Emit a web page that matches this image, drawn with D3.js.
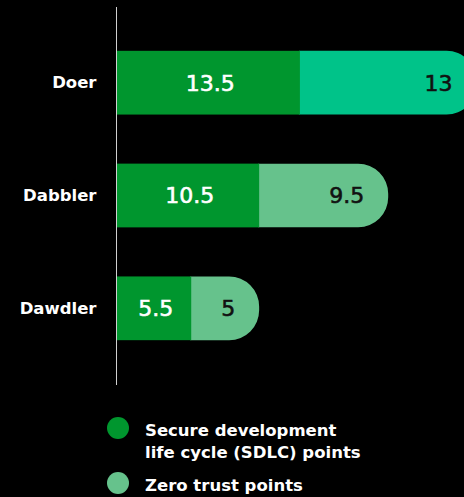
<!DOCTYPE html>
<html>
<head>
<meta charset="utf-8">
<script src="https://cdn.jsdelivr.net/npm/d3@7"></script>
<style>
  html, body { margin: 0; padding: 0; background: #000; overflow: hidden; }
  svg { display: block; }
  text { font-family: "DejaVu Sans", "Noto Sans", sans-serif; }
</style>
</head>
<body>
<svg id="chart" width="464" height="497"></svg>
<script>
// Profiles and their points
const categories = ["Doer", "Dabbler", "Dawdler"];
const sdlcPoints = [13.5, 10.5, 5.5];
const zeroTrustPoints = [13, 9.5, 5];
const seriesNames = ["Secure development\nlife cycle (SDLC) points", "Zero trust points"];
const sdlcColor = "#00962e";
const zeroTrustColors = ["#00c389", "#66c28c", "#66c28c"];
const legendColors = ["#00962e", "#66c28c"];

const svg = d3.select("#chart");
const axisX = 116.5;

const x = d3.scaleLinear().domain([0, 26.5]).range([axisX, axisX + 360]);
const y = d3.scaleBand().domain(categories).range([26, 365]).paddingInner(0.435).paddingOuter(0.22);

const rows = categories.map((c, i) => ({
  cat: c, a: sdlcPoints[i], b: zeroTrustPoints[i], col: zeroTrustColors[i]
}));

const bh = y.bandwidth();
const r = Math.min(30, bh / 2);

// Rounded-end path for the outer segment
function capPath(x0, x1, y0, h) {
  const rr = Math.min(r, x1 - x0);
  return `M${x0},${y0} H${x1 - rr} A${rr},${rr} 0 0 1 ${x1},${y0 + rr} V${y0 + h - rr} A${rr},${rr} 0 0 1 ${x1 - rr},${y0 + h} H${x0} Z`;
}

const g = svg.append("g");

// Zero trust segment (rounded end)
g.selectAll("path.zt").data(rows).join("path")
  .attr("class", "zt")
  .attr("d", d => capPath(x(d.a) - 1, x(d.a + d.b), y(d.cat), bh))
  .attr("fill", d => d.col);

// SDLC segment
g.selectAll("rect.sdlc").data(rows).join("rect")
  .attr("class", "sdlc")
  .attr("x", x(0))
  .attr("y", d => y(d.cat))
  .attr("width", d => x(d.a) - x(0))
  .attr("height", bh)
  .attr("fill", sdlcColor);

// Value labels (thin same-colour stroke gives a medium weight)
g.selectAll("text.va").data(rows).join("text")
  .attr("class", "va")
  .attr("x", d => (x(0) + x(d.a)) / 2 + 2)
  .attr("y", d => y(d.cat) + bh / 2)
  .attr("dy", "0.36em")
  .attr("text-anchor", "middle")
  .attr("fill", "#fff")
  .attr("stroke", "#fff")
  .attr("stroke-width", 0.6)
  .attr("font-size", 22)
  .text(d => d.a);

g.selectAll("text.vb").data(rows).join("text")
  .attr("class", "vb")
  .attr("x", d => x(d.a + d.b) - 24)
  .attr("y", d => y(d.cat) + bh / 2)
  .attr("dy", "0.36em")
  .attr("text-anchor", "end")
  .attr("fill", "#111")
  .attr("stroke", "#111")
  .attr("stroke-width", 0.6)
  .attr("font-size", 22)
  .text(d => d.b);

// Category axis
const yAxis = svg.append("g")
  .attr("transform", `translate(${axisX},0)`)
  .call(d3.axisLeft(y).tickSize(0).tickPadding(20));
yAxis.select(".domain").remove();
yAxis.selectAll("text")
  .attr("fill", "#fff")
  .attr("font-size", 16.5)
  .attr("font-weight", 700)
  .style("font-family", "'DejaVu Sans', 'Noto Sans', sans-serif");
svg.append("line")
  .attr("x1", axisX).attr("x2", axisX)
  .attr("y1", 7).attr("y2", 385)
  .attr("stroke", "#d0d0d0").attr("stroke-width", 1);

// Legend
const legend = svg.append("g");
const legendY = [428, 483];
seriesNames.forEach((name, i) => {
  legend.append("circle")
    .attr("cx", 118).attr("cy", legendY[i]).attr("r", 11)
    .attr("fill", legendColors[i]);
  const t = legend.append("text")
    .attr("x", 145).attr("y", legendY[i] + 8)
    .attr("fill", "#fff")
    .attr("font-size", 16.5)
    .attr("font-weight", 700);
  name.split("\n").forEach((line, j) => {
    t.append("tspan").attr("x", 145).attr("dy", j === 0 ? 0 : 21.5).text(line);
  });
});
</script>
</body>
</html>
